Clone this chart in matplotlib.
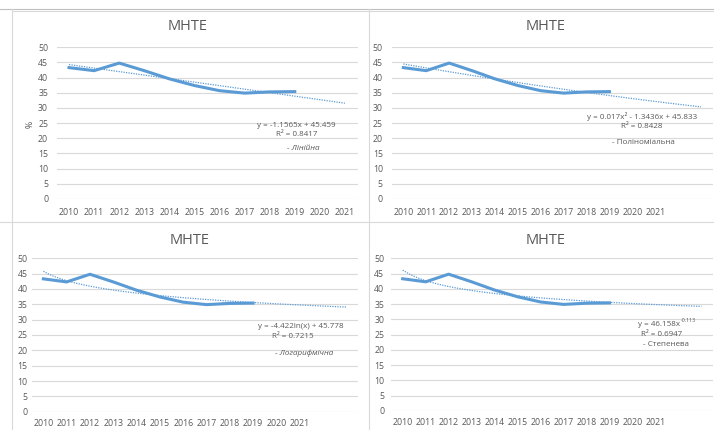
import numpy as np
import matplotlib
matplotlib.use('Agg')
import matplotlib.pyplot as plt
from matplotlib.lines import Line2D

plt.rcParams['font.family'] = ['Open Sans', 'DejaVu Sans']

W, H = 714, 430

# дані МНТЕ, %
years = ['2010', '2011', '2012', '2013', '2014', '2015', '2016', '2017', '2018', '2019', '2020', '2021']
mnte = [43.3, 42.3, 44.8, 42.3, 39.6, 37.4, 35.7, 34.9, 35.3, 35.4]

# коефіцієнти ліній тренду (з підписів на графіках)
lin_k, lin_b = -1.1565, 45.459
poly_a, poly_b, poly_c = 0.017, -1.3436, 45.833
log_k, log_b = -4.422, 45.778
pow_a, pow_k = 46.158, -0.113

BLUE = '#5B9BD5'
GREY = '#595959'
GRID = '#D9D9D9'

fig = plt.figure(figsize=(W / 100, H / 100), dpi=100)


def px_axes(left, top, right, bottom):
    return fig.add_axes([left / W, 1 - bottom / H, (right - left) / W, (bottom - top) / H])


def style(ax, n_cat, ypad, xpad):
    ax.set_ylim(0, 50)
    ax.set_xlim(0.5, n_cat + 0.5)
    ax.set_yticks(range(0, 51, 5))
    ax.set_xticks(range(1, len(years) + 1))
    ax.set_xticklabels(years)
    for s in ax.spines.values():
        s.set_visible(False)
    ax.grid(axis='y', color=GRID, lw=0.8)
    ax.set_axisbelow(True)
    ax.tick_params(axis='both', length=0, labelsize=6.3, colors=GREY)
    ax.tick_params(axis='y', pad=ypad)
    ax.tick_params(axis='x', pad=xpad)


def ftext(x, y, s, **kw):
    kw.setdefault('color', GREY)
    kw.setdefault('fontsize', 5.8)
    kw.setdefault('ha', 'center')
    return fig.text(x / W, 1 - y / H, s, va='center', **kw)


panels = [
    # (axes box, categories, ypad, xpad, title pos)
    ((56.5, 47.3, 357.5, 199), 12, 6, 6.3, (188, 27)),
    ((391.9, 47.3, 712.5, 199), 14, 6.5, 6.3, (546, 27)),
    ((31.7, 258.3, 358, 411.7), 14, 3, 5.3, (190, 240)),
    ((391.2, 258.3, 713, 411), 14, 5, 5.3, (546, 240)),
]

axes = []
for box, n, yp, xp, tpos in panels:
    ax = px_axes(*box)
    style(ax, n, yp, xp)
    x = np.arange(1, len(mnte) + 1)
    ax.plot(x, mnte, color=BLUE, lw=2.2, solid_joinstyle='round', zorder=3)
    ftext(tpos[0], tpos[1], 'МНТЕ', fontsize=10.5)
    axes.append((ax, n))

# лінії тренду
ax, n = axes[0]
t = np.arange(1, n + 1)
ax.plot(t, lin_k * t + lin_b, color=BLUE, lw=0.9, ls=(0, (1, 1)), zorder=2)

ax, n = axes[1]
t = np.linspace(1, n, 100)
ax.plot(t, poly_a * t ** 2 + poly_b * t + poly_c, color=BLUE, lw=0.9, ls=(0, (1, 1)), zorder=2)

ax, n = axes[2]
t = np.linspace(1, n, 100)
ax.plot(t, log_k * np.log(t) + log_b, color=BLUE, lw=0.9, ls=(0, (1, 1)), zorder=2)

ax, n = axes[3]
t = np.linspace(1, n, 100)
ax.plot(t, pow_a * t ** pow_k, color=BLUE, lw=0.9, ls=(0, (1, 1)), zorder=2)

# підписи
ftext(30, 124, '%', rotation=90, fontsize=6.3)

ftext(296, 125, 'y = -1.1565x + 45.459')
ftext(297, 135, 'R² = 0.8417')
ftext(303, 149, '- Лінійна', style='italic')

ftext(642, 116, 'y = 0.017x² - 1.3436x + 45.833')
ftext(642, 126, 'R² = 0.8428')
ftext(643, 143, '- Поліноміальна')

ftext(301, 326, 'y = -4.422ln(x) + 45.778')
ftext(293, 336, 'R² = 0.7215')
ftext(304, 353, '- Логарифмічна', style='italic')

ftext(680, 324, 'y = 46.158x', ha='right')
ftext(680.5, 321, '-0.113', ha='left', fontsize=3.8)
ftext(662, 334, 'R² = 0.6947')
ftext(666, 345, '- Степенева')

# рамки
for xs, ys, c in [((0, W), (8.5, 8.5), '#BFBFBF'),
                  ((12, W), (10.5, 10.5), GRID),
                  ((12, 12), (8.5, H), GRID),
                  ((369, 369), (8.5, H), GRID),
                  ((0, W), (222, 222), GRID)]:
    fig.add_artist(Line2D([v / W for v in xs], [1 - v / H for v in ys], color=c, lw=0.8))

fig.savefig('out.png', dpi=100)
